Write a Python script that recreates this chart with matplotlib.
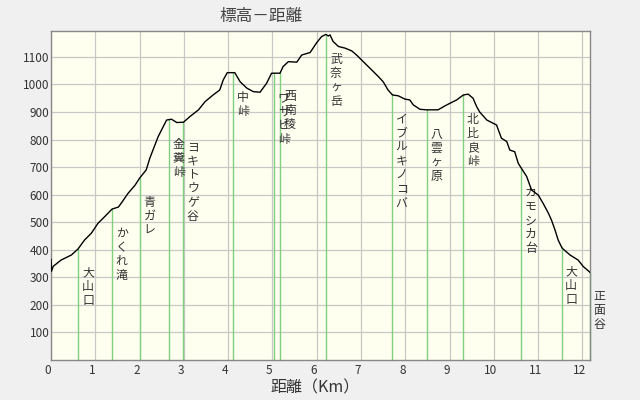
import numpy as np
import matplotlib
matplotlib.use("Agg")
import matplotlib.pyplot as plt
import matplotlib.transforms as mtrans

plt.rcParams['font.family'] = ['Noto Sans CJK JP', 'DejaVu Sans']

# ---- data ----
dist = [0.00, 0.01, 0.05, 0.23, 0.46, 0.61, 0.76, 0.91, 1.06, 1.21, 1.38, 1.52, 1.59,
        1.74, 1.90, 2.00, 2.15, 2.23, 2.42, 2.61, 2.72, 2.84, 2.99, 3.14, 3.33, 3.48,
        3.66, 3.81, 3.89, 3.98, 4.15, 4.27, 4.42, 4.57, 4.72, 4.87, 4.98, 5.17, 5.24,
        5.36, 5.55, 5.66, 5.85, 6.00, 6.11, 6.21, 6.26, 6.30, 6.37, 6.49, 6.64, 6.79,
        6.90, 7.05, 7.24, 7.39, 7.50, 7.61, 7.71, 7.84, 7.99, 8.10, 8.18, 8.33, 8.48,
        8.74, 8.89, 9.01, 9.16, 9.31, 9.42, 9.53, 9.61, 9.68, 9.84, 10.06, 10.17, 10.29,
        10.36, 10.47, 10.55, 10.62, 10.74, 10.85, 11.00, 11.11, 11.23, 11.30, 11.38,
        11.45, 11.54, 11.72, 11.90, 12.02, 12.15, 12.17]
elev = [365, 322, 340, 363, 381, 403, 436, 460, 496, 520, 548, 555, 570,
        605, 635, 660, 690, 732, 811, 871, 874, 862, 863, 884, 908, 938,
        962, 980, 1017, 1043, 1043, 1010, 987, 974, 972, 1005, 1041, 1041, 1065,
        1083, 1081, 1107, 1116, 1152, 1174, 1182, 1176, 1180, 1156, 1138, 1132, 1122,
        1107, 1083, 1053, 1029, 1010, 980, 962, 959, 947, 944, 926, 910, 908,
        908, 922, 932, 944, 962, 965, 950, 920, 900, 871, 853, 805, 793,
        762, 756, 714, 696, 666, 617, 599, 569, 533, 508, 472,
        436, 406, 381, 363, 339, 321, 318]

point_names = ["大山口", "かくれ滝", "青ガレ", "金糞峠", "ヨキトウゲ谷", "中峠", "ワサビ峠",
               "西南稜", "武奈ヶ岳", "イブルキノコバ", "八雲ヶ原", "北比良峠", "カモシカ台",
               "大山口", "正面谷"]
point_dist = [0.62, 1.38, 2.01, 2.67, 2.99, 4.12, 5.04, 5.18, 6.22, 7.70, 8.48, 9.31,
              10.62, 11.53, 12.17]

xticks = list(range(0, 13))
yticks = list(range(100, 1200, 100))

# ---- figure ----
fig = plt.figure(figsize=(6.4, 4.0), dpi=100, facecolor='#F0F0F0')
ax = fig.add_axes([51/640, 40/400, 539/640, 329.5/400])
ax.set_facecolor('#FFFFF0')
ax.set_xlim(0, 12.17)
ax.set_ylim(0, 1196)

ax.set_xticks(xticks)
ax.set_yticks(yticks)
ax.grid(True, color='#C8C8C8', linewidth=0.9)
ax.set_axisbelow(True)
ax.tick_params(length=0, labelsize=8.5, labelcolor='#333333')
ax.tick_params(axis='x', pad=3)
ax.tick_params(axis='y', pad=1)
shift = mtrans.ScaledTranslation(-3/100, 0, fig.dpi_scale_trans)
for lbl in ax.get_xticklabels():
    lbl.set_transform(lbl.get_transform() + shift)
for s in ax.spines.values():
    s.set_color('#888888')
    s.set_linewidth(1.0)

# waypoint lines
pt_elev = np.interp(point_dist, dist, elev)
for x, e, name in zip(point_dist, pt_elev, point_names):
    ax.plot([x, x], [0, e], color='#80D080', linewidth=1.0, zorder=2, clip_on=False)
    ax.annotate("\n".join(name), xy=(x, e), xytext=(9.5, -18), textcoords='offset pixels',
                ha='center', va='top', fontsize=8.6, color='#333333', linespacing=1.1,
                annotation_clip=False)

ax.plot(dist, elev, color='black', linewidth=1.0, zorder=3)

fig.text(219/640, 1 - 17/400, "標高－距離", fontsize=12, color='#444444',
         ha='left', va='center')
fig.text(270/640, 1 - 388/400, "距離（Km）", fontsize=11.5, color='#333333',
         ha='left', va='center')

fig.savefig("out.png", dpi=100, facecolor=fig.get_facecolor())
